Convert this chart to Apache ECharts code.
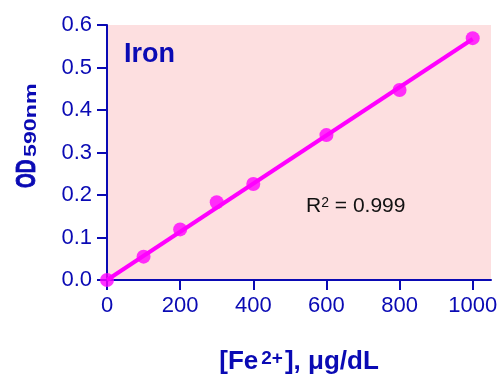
<!DOCTYPE html>
<html>
<head>
<meta charset="utf-8">
<script src="https://cdn.jsdelivr.net/npm/echarts@6/dist/echarts.min.js"></script>
<style>html,body{margin:0;padding:0;background:#fff}#c{width:499px;height:374px}</style>
</head>
<body>
<div id="c"></div>
<script>
// Data
var concentrations = [0, 100, 200, 300, 400, 600, 800, 1000];
var odValues = [0.000, 0.055, 0.119, 0.183, 0.226, 0.341, 0.447, 0.569];
var fitX = [0, 1000];
var fitY = [0.000, 0.567];
var xTicks = [0, 200, 400, 600, 800, 1000];
var titleText = 'Iron';
var r2Text = '0.999';
var yNameMain = 'OD';
var yNameSub = '590nm';

var BLUE = '#0A0AB4';
var FONT = 'Liberation Sans';

var pts = concentrations.map(function (c, i) { return [c, odValues[i]]; });
var fit = fitX.map(function (c, i) { return [c, fitY[i]]; });

var chart = echarts.init(document.getElementById('c'), null, {renderer: 'canvas'});
chart.setOption({
  animation: false,
  backgroundColor: '#ffffff',
  title: [{
    text: titleText, left: 119, top: 36,
    textStyle: {fontFamily: FONT, fontSize: 27, fontWeight: 'bold', color: BLUE}
  }, {
    text: '{a|R}{s|2}{a| = ' + r2Text + '}', left: 301, top: 191,
    textStyle: {
      fontFamily: FONT, fontWeight: 'normal',
      rich: {
        a: {fontFamily: FONT, fontSize: 21, fontWeight: 'normal', color: '#111', lineHeight: 22, verticalAlign: 'top'},
        s: {fontFamily: FONT, fontSize: 14, fontWeight: 'normal', color: '#111', lineHeight: 14, verticalAlign: 'top'}
      }
    }
  }],
  graphic: [{
    type: 'text', x: 27.5, y: 188, rotation: Math.PI / 2, scaleX: 1, scaleY: 1.45,
    style: {text: yNameMain, x: 0, y: 0, align: 'left', verticalAlign: 'middle',
      font: 'bold 19px "Liberation Sans"', fill: BLUE, stroke: BLUE, lineWidth: 0.6}
  }, {
    type: 'text', x: 31, y: 157, rotation: Math.PI / 2, scaleX: 1.45, scaleY: 1.05,
    style: {text: yNameSub, x: 0, y: 0, align: 'left', verticalAlign: 'middle',
      font: 'bold 16px "Liberation Sans"', fill: BLUE}
  }],
  grid: {left: 107, top: 25, right: 8, bottom: 94, outerBoundsMode: 'none', containLabel: false,
    backgroundColor: '#FDDFE0', show: true, borderWidth: 0},
  xAxis: {
    type: 'value', min: 0, max: 1050,
    name: '{a|[Fe}{s|2+}{a|], \u03bcg/dL}',
    nameLocation: 'middle', nameGap: 69,
    nameTextStyle: {
      fontFamily: FONT,
      rich: {
        a: {fontFamily: FONT, fontSize: 26, fontWeight: 'bold', color: BLUE, lineHeight: 28, verticalAlign: 'top'},
        s: {fontFamily: FONT, fontSize: 19, fontWeight: 'bold', color: BLUE, lineHeight: 19, verticalAlign: 'top', padding: [0, 2, 0, 3]}
      }
    },
    axisLine: {show: true, onZero: false, lineStyle: {color: BLUE, width: 2}},
    axisTick: {show: true, length: 10, lineStyle: {color: BLUE, width: 2}, customValues: xTicks},
    axisLabel: {color: BLUE, fontFamily: FONT, fontSize: 22, margin: 15, customValues: xTicks,
      formatter: function (v) { return String(v); }},
    splitLine: {show: false}
  },
  yAxis: {
    type: 'value', min: 0, max: 0.6, interval: 0.1,
    axisLine: {show: true, onZero: false, lineStyle: {color: BLUE, width: 2}},
    axisTick: {show: true, length: 10, lineStyle: {color: BLUE, width: 2}},
    axisLabel: {color: BLUE, fontFamily: FONT, fontSize: 22, margin: 15,
      formatter: function (v) { return v.toFixed(1); }},
    splitLine: {show: false}
  },
  series: [{
    type: 'line', data: fit, showSymbol: false, symbol: 'none',
    lineStyle: {color: '#FF00FF', width: 4}, z: 2, silent: true
  }, {
    type: 'scatter', data: pts, symbol: 'circle', symbolSize: 14,
    itemStyle: {color: '#FF00FF'}, z: 3
  }]
});
</script>
</body>
</html>
